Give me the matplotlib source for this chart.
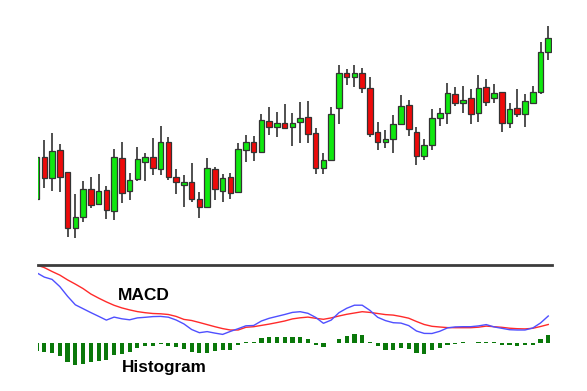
import matplotlib
matplotlib.use("Agg")
import matplotlib.pyplot as plt
import numpy as np

# ---- price data (arbitrary price units) ----
opens = [61, 103.3, 81.7, 110, 88.3, 31.7, 42.7, 71, 55.7, 70,
         49.3, 102.3, 69, 80.7, 98.3, 103, 90.7, 118.3, 83.3, 75,
         78.3, 61, 53.3, 91, 69.3, 82.7, 67.7, 110, 118.3, 108.3,
         139.3, 133.3, 136.7, 133.3, 138.3, 142.7, 126.7, 91.7, 100, 152.3,
         186.7, 183.3, 186.7, 171.7, 128.3, 118.3, 121, 136, 155, 128.3,
         104, 115, 141.7, 147.3, 166, 156.7, 161.7, 147.3, 172.7, 161.7,
         167.7, 137.3, 151.7, 146, 157.3, 168.3, 208.3]
highs = [105, 120, 127.3, 116, 88.3, 66, 79, 83.3, 86, 74,
         110.7, 118.3, 87.3, 112.7, 106.7, 121.7, 134, 123.3, 90.7, 85,
         96.7, 68.3, 101.7, 93.3, 86, 86.7, 117.3, 125, 124, 146,
         152.7, 148.3, 156, 147.3, 158.3, 159, 132, 107.3, 153.3, 195,
         191, 195, 191.7, 182.7, 138.3, 130, 145, 165, 160, 133.3,
         120.7, 150.7, 151.7, 177.3, 172.7, 174, 170.7, 185, 180.7, 176,
         168.3, 157.3, 170.7, 166, 174, 218.3, 234]
lows = [60, 71.7, 69.3, 68.3, 23.3, 21.7, 38.3, 51.7, 55, 40.7,
        40, 57.3, 60, 79, 79, 85, 85, 80, 66, 53.3,
        58.3, 41.7, 51.7, 60, 58.3, 61, 67.7, 98.3, 99.3, 108.3,
        125, 123.3, 130.7, 114, 117.3, 116.7, 86, 86, 100, 136,
        175, 172.7, 166.7, 123.3, 110, 111.7, 106.7, 136, 124, 95,
        100, 110, 134, 136, 154, 146.7, 136, 138.3, 154, 156.7,
        128.3, 131.7, 143.3, 132.7, 157.3, 166, 200]
closes = [102.7, 81.7, 109, 82.7, 31.7, 42.7, 71, 55, 69.3, 50,
          103.3, 66.7, 79.7, 100.7, 103, 91.7, 118.3, 83.3, 77.7, 78.3,
          60.7, 53.3, 91.7, 70.7, 81.7, 66.7, 110.7, 118.3, 108.3, 140,
          133.3, 137.3, 131.7, 136.7, 141.7, 126, 92, 100, 146, 186.7,
          183.3, 187.3, 172.3, 125.7, 118.3, 121, 136, 154, 131, 104,
          115, 141.7, 146.7, 166.7, 156.7, 160, 146, 171.7, 158.3, 166.7,
          137.3, 150.7, 146, 159.3, 168.3, 208.3, 221.7]

# ---- MACD panel data (panel units) ----
macd_line = [70.6, 66.2, 63.9, 56.7, 47.0, 38.5, 34.6, 30.7, 27.0, 23.2,
             26.2, 24.5, 23.5, 25.4, 26.0, 26.7, 26.9, 26.1, 23.3, 19.4,
             13.8, 10.6, 11.7, 10.2, 8.9, 11.9, 14.6, 17.5, 17.8, 22.3,
             25.0, 26.9, 28.8, 30.9, 31.6, 30.0, 25.9, 20.0, 23.2, 30.6,
             35.0, 38.1, 38.1, 32.9, 26.0, 22.7, 20.6, 20.2, 17.7, 12.3,
             9.9, 9.8, 12.0, 15.4, 16.4, 16.6, 16.6, 17.4, 18.7, 16.4,
             15.0, 13.6, 13.3, 13.3, 15.3, 20.3, 27.3]
signal_line = [78.3, 75.7, 71.8, 68.2, 63.4, 59.2, 54.7, 49.3, 45.2, 41.4,
               38.0, 35.4, 33.4, 31.7, 30.6, 29.8, 29.5, 28.8, 26.9, 23.9,
               22.8, 20.8, 18.7, 16.6, 14.7, 13.3, 13.3, 16.0, 16.6, 17.9,
               19.2, 20.7, 22.3, 24.4, 25.5, 26.2, 25.0, 24.0, 25.4, 27.3,
               29.0, 30.3, 31.6, 30.9, 29.8, 28.7, 28.2, 26.8, 25.1, 21.8,
               18.8, 17.0, 16.3, 15.7, 15.6, 15.6, 15.6, 16.1, 17.2, 16.6,
               16.0, 15.1, 14.6, 14.4, 15.0, 16.8, 18.8]
histogram = [-8, -9, -10, -13, -18.5, -21.5, -20.7, -19, -18, -17,
             -12, -11, -9, -5, -2.5, -2.2, -0.5, -2.7, -3.3, -6,
             -8.5, -9.5, -9.3, -7.3, -6.3, -6.7, -1.7, 1.7, 1.7, 5.3,
             6.7, 6.7, 6, 6.5, 6.7, 4, -1.5, -4, 0.5, 4.7,
             7.5, 9.3, 8.5, 1.5, -3, -6.7, -6.7, -5, -6, -9.5,
             -10.3, -7, -4.7, -1.2, -0.3, 1.3, 0.3, 1.8, 1.8, 1.5,
             -1.3, -2, -2.3, -2, -1.3, 4.2, 8.3]

labels = ["MACD", "Histogram"]

W, H = 587, 391
fig = plt.figure(figsize=(W / 100, H / 100), dpi=100)
plt.rcParams['font.family'] = ['Liberation Sans', 'DejaVu Sans']

xl, xr = 37.5 / W, 552.3 / W
sep = 265
ax = fig.add_axes([xl, (H - sep) / H, xr - xl, sep / H])
axm = fig.add_axes([xl, 0, xr - xl, (H - sep) / H])

XLIM = (0.12, 66.52)

n = len(opens)
idx = np.arange(n)
o = np.array(opens); c = np.array(closes)
hi = np.array(highs); lo = np.array(lows)
up = c >= o
green = '#0fe80f'
red = '#ee0a0a'

ax.vlines(idx, lo, hi, color='#4f4f4f', linewidth=1.4, zorder=1)
bottoms = np.minimum(o, c)
heights = np.abs(c - o)
ax.bar(idx, heights, bottom=bottoms, width=0.72,
       color=np.where(up, green, red), edgecolor='#333333',
       linewidth=0.9, zorder=2)
ax.set_xlim(*XLIM)
ax.set_ylim(-5, 260)
ax.axis('off')

# MACD panel
axm.bar(idx, histogram, width=0.54, color='#0a780a', zorder=1)
axm.plot(idx, signal_line, color='#ff2a2a', linewidth=1.0, zorder=2)
axm.plot(idx, macd_line, color='#4f4fff', linewidth=1.0, zorder=3)
axm.set_xlim(*XLIM)
axm.set_ylim(-47.7, 78.3)
for s in ['left', 'right', 'bottom']:
    axm.spines[s].set_visible(False)
axm.spines['top'].set_color('#3c3c3c')
axm.spines['top'].set_linewidth(2.0)
axm.set_xticks([]); axm.set_yticks([])

axm.text(10.5, 43.3, labels[0], fontsize=12.5, fontweight='bold',
         ha='left', va='baseline', color='black', zorder=5)
axm.text(11.0, -28.5, labels[1], fontsize=12.3, fontweight='bold',
         ha='left', va='baseline', color='black', zorder=5)

fig.savefig('out.png', dpi=100)
